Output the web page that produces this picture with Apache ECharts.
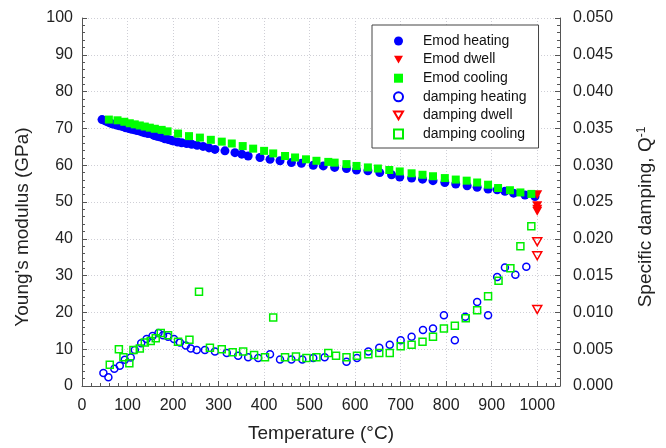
<!DOCTYPE html>
<html>
<head>
<meta charset="utf-8">
<script src="https://cdn.jsdelivr.net/npm/echarts@6/dist/echarts.min.js"></script>
<style>
  html, body { margin: 0; padding: 0; background: #fff; }
  #chart { width: 666px; height: 448px; }
</style>
</head>
<body>
<div id="chart"></div>
<script>
// Young's modulus (GPa)
const emodHeatT = [44, 50, 56, 61, 68, 76, 82, 89, 95, 102, 108, 115, 121, 127, 133, 138, 145, 153, 158, 164,
  170, 176, 182, 189, 195, 200, 210, 219, 230, 241, 253, 266, 279, 292, 314, 336, 351, 365, 391, 413,
  435, 460, 482, 508, 530, 555, 581, 603, 628, 654, 680, 698, 724, 748, 771, 797, 821, 846, 868, 892,
  912, 929, 948, 973, 995];
const emodHeatV = [72.4, 72.1, 71.8, 71.5, 71.2, 70.9, 70.7, 70.5, 70.2, 70.0, 69.8, 69.6, 69.4, 69.3, 69.0, 68.8, 68.6, 68.5, 68.1, 67.9,
  67.7, 67.5, 67.2, 67.0, 66.8, 66.6, 66.3, 66.1, 65.9, 65.7, 65.4, 65.1, 64.7, 64.3, 63.9, 63.4, 63.0, 62.5, 62.1, 61.6,
  61.2, 60.7, 60.5, 60.0, 59.8, 59.4, 59.1, 58.7, 58.5, 58.0, 57.4, 56.8, 56.5, 56.2, 55.8, 55.3, 54.9, 54.4, 54.0, 53.5,
  53.3, 52.9, 52.4, 51.9, 51.5];

const emodDwellT = [1000, 1000, 1000, 1000];
const emodDwellV = [52.0, 49.0, 48.0, 47.5];

const emodCoolT = [59, 78, 93, 105, 116, 127, 138, 149, 160, 175, 188, 211, 235, 259, 283, 307, 329, 353, 376, 400,
  420, 446, 468, 492, 515, 541, 555, 581, 603, 628, 650, 675, 698, 724, 748, 771, 797, 821, 845, 868,
  892, 914, 940, 963, 987];
const emodCoolV = [72.4, 72.2, 71.8, 71.4, 71.1, 70.8, 70.5, 70.2, 69.9, 69.6, 69.2, 68.6, 67.9, 67.5, 66.9, 66.4, 65.9, 65.2, 64.5, 63.9,
  63.2, 62.5, 62.1, 61.6, 61.2, 60.9, 60.7, 60.3, 59.8, 59.4, 59.1, 58.7, 58.3, 57.8, 57.4, 57.0, 56.5, 56.1, 55.8, 55.3,
  54.7, 53.8, 53.2, 52.6, 52.2];

// specific damping Q^-1
const dampHeatT = [47, 58, 71, 83, 94, 107, 116, 130, 142, 155, 168, 178, 189, 202, 215, 228, 239, 252, 270, 292,
  318, 343, 365, 387, 413, 435, 460, 484, 508, 533, 581, 604, 629, 653, 676, 700, 724, 749, 771, 795,
  819, 842, 868, 892, 912, 929, 952, 976];
const dampHeatV = [0.00176, 0.0012, 0.00234, 0.00275, 0.00356, 0.00387, 0.0049, 0.0058, 0.0064, 0.0068, 0.0072, 0.0069, 0.0067, 0.0064, 0.0059, 0.0055, 0.0051, 0.0049, 0.0049, 0.0047,
  0.0045, 0.0041, 0.0039, 0.0038, 0.0043, 0.0036, 0.0036, 0.0036, 0.0038, 0.0039, 0.0033, 0.0038, 0.0047, 0.0052, 0.0056, 0.0062, 0.0067, 0.0076, 0.0078, 0.0096,
  0.0062, 0.0094, 0.0114, 0.0096, 0.0148, 0.0161, 0.0151, 0.0162];

const dampDwellT = [1000, 1000, 1000];
const dampDwellV = [0.0196, 0.0177, 0.0104];

const dampCoolT = [61, 81, 91, 104, 113, 127, 138, 151, 162, 173, 189, 211, 236, 257, 281, 307, 331, 354, 378, 402,
  420, 446, 470, 493, 515, 541, 558, 581, 604, 629, 653, 676, 700, 724, 748, 771, 795, 819, 843, 868,
  892, 915, 941, 963, 987];
const dampCoolV = [0.0029, 0.0050, 0.0039, 0.0031, 0.0049, 0.0051, 0.0059, 0.0061, 0.0065, 0.0072, 0.0069, 0.0060, 0.0063, 0.0128, 0.0052, 0.0050, 0.0046, 0.0047, 0.0042, 0.0039,
  0.0093, 0.0039, 0.0040, 0.0038, 0.0039, 0.0045, 0.0041, 0.0039, 0.0041, 0.0043, 0.0045, 0.0045, 0.0054, 0.0056, 0.0060, 0.0067, 0.0078, 0.0082, 0.0092, 0.0103,
  0.0122, 0.0143, 0.0160, 0.0190, 0.0217];

const xTicks = [0, 100, 200, 300, 400, 500, 600, 700, 800, 900, 1000];

function pairs(xs, ys) {
  return xs.map((x, i) => [x, ys[i]]);
}

const FONT = "Liberation Sans, Arial, sans-serif";
const TXT = "#222";
const AX = "#555";
// pointing-down triangle
const TRI_DOWN = "path://M0,0L20,0L10,17Z";

const chart = echarts.init(document.getElementById("chart"), null, { renderer: "canvas" });

const tickStyle = { show: true, inside: true, length: 5, lineStyle: { color: AX } };
const minorStyle = { show: true, splitNumber: 5, length: 3, lineStyle: { color: AX } };

const option = {
  animation: false,
  backgroundColor: "#fff",
  grid: { left: 82, right: 106, top: 18, bottom: 60 },
  legend: {
    orient: "vertical",
    left: 372,
    top: 25,
    backgroundColor: "#fff",
    borderColor: "#444",
    borderWidth: 1,
    borderRadius: 0,
    padding: [9, 12, 7, 21],
    itemGap: 4.6,
    itemWidth: 9,
    itemHeight: 9,
    textStyle: { fontFamily: FONT, fontSize: 14, color: "#111", lineHeight: 14, padding: [0, 0, 0, 15] },
    data: ["Emod heating", "Emod dwell", "Emod cooling", "damping heating", "damping dwell", "damping cooling"]
  },
  xAxis: {
    type: "value",
    min: 0,
    max: 1050,
    interval: 100,
    name: "Temperature (°C)",
    nameLocation: "middle",
    nameGap: 38,
    nameTextStyle: { fontFamily: FONT, fontSize: 19, color: TXT },
    axisLine: { show: true, onZero: false, lineStyle: { color: AX } },
    axisTick: tickStyle,
    minorTick: minorStyle,
    axisLabel: {
      fontFamily: FONT, fontSize: 16, color: TXT, margin: 12,
      showMaxLabel: false,
      formatter: v => (xTicks.includes(v) ? String(v) : "")
    },
    splitLine: { show: true, lineStyle: { color: "#cfcfd6", type: [1, 2] } }
  },
  yAxis: [
    {
      type: "value",
      min: 0,
      max: 100,
      interval: 10,
      name: "Young's modulus (GPa)",
      nameLocation: "middle",
      nameGap: 50,
      nameTextStyle: { fontFamily: FONT, fontSize: 19, color: TXT, padding: [0, 0, 0, -50] },
      axisLine: { show: true, lineStyle: { color: AX } },
      axisTick: tickStyle,
      minorTick: minorStyle,
      axisLabel: { fontFamily: FONT, fontSize: 16, color: TXT, margin: 9 },
      splitLine: { show: true, lineStyle: { color: "#cfcfd6", type: [1, 2] } }
    },
    {
      type: "value",
      position: "right",
      min: 0,
      max: 0.05,
      interval: 0.005,
      name: "{n|Specific damping, Q}{s|-1}",
      nameLocation: "middle",
      nameGap: 76,
      nameRotate: 90,
      nameTextStyle: {
        fontFamily: FONT, fontSize: 19, color: TXT, padding: [0, 0, 0, -30],
        rich: {
          n: { fontFamily: FONT, fontSize: 19, color: TXT },
          s: { fontFamily: FONT, fontSize: 12, color: TXT, verticalAlign: "top", padding: [0, 0, 8, 0] }
        }
      },
      axisLine: { show: true, lineStyle: { color: AX } },
      axisTick: tickStyle,
      minorTick: minorStyle,
      axisLabel: { fontFamily: FONT, fontSize: 16, color: TXT, margin: 13, formatter: v => v.toFixed(3) },
      splitLine: { show: false }
    }
  ],
  series: [
    {
      name: "Emod heating", type: "scatter", yAxisIndex: 0,
      symbol: "circle", symbolSize: 9,
      itemStyle: { color: "#0000ff", opacity: 1 },
      data: pairs(emodHeatT, emodHeatV)
    },
    {
      name: "Emod dwell", type: "scatter", yAxisIndex: 0,
      symbol: TRI_DOWN, symbolSize: [10, 9],
      itemStyle: { color: "#ff0000", opacity: 1 },
      data: pairs(emodDwellT, emodDwellV)
    },
    {
      name: "Emod cooling", type: "scatter", yAxisIndex: 0,
      symbol: "rect", symbolSize: 8,
      itemStyle: { color: "#00ff00", opacity: 1 },
      data: pairs(emodCoolT, emodCoolV)
    },
    {
      name: "damping heating", type: "scatter", yAxisIndex: 1,
      symbol: "circle", symbolSize: 7,
      itemStyle: { color: "rgba(255,255,255,0)", borderColor: "#0000ff", borderWidth: 1.5, opacity: 1 },
      data: pairs(dampHeatT, dampHeatV)
    },
    {
      name: "damping dwell", type: "scatter", yAxisIndex: 1,
      symbol: TRI_DOWN, symbolSize: [9, 8],
      itemStyle: { color: "rgba(255,255,255,0)", borderColor: "#ff0000", borderWidth: 1.5, opacity: 1 },
      data: pairs(dampDwellT, dampDwellV)
    },
    {
      name: "damping cooling", type: "scatter", yAxisIndex: 1,
      symbol: "rect", symbolSize: 7,
      itemStyle: { color: "rgba(255,255,255,0)", borderColor: "#00ee00", borderWidth: 1.5, opacity: 1 },
      data: pairs(dampCoolT, dampCoolV)
    }
  ]
};

chart.setOption(option);
</script>
</body>
</html>
